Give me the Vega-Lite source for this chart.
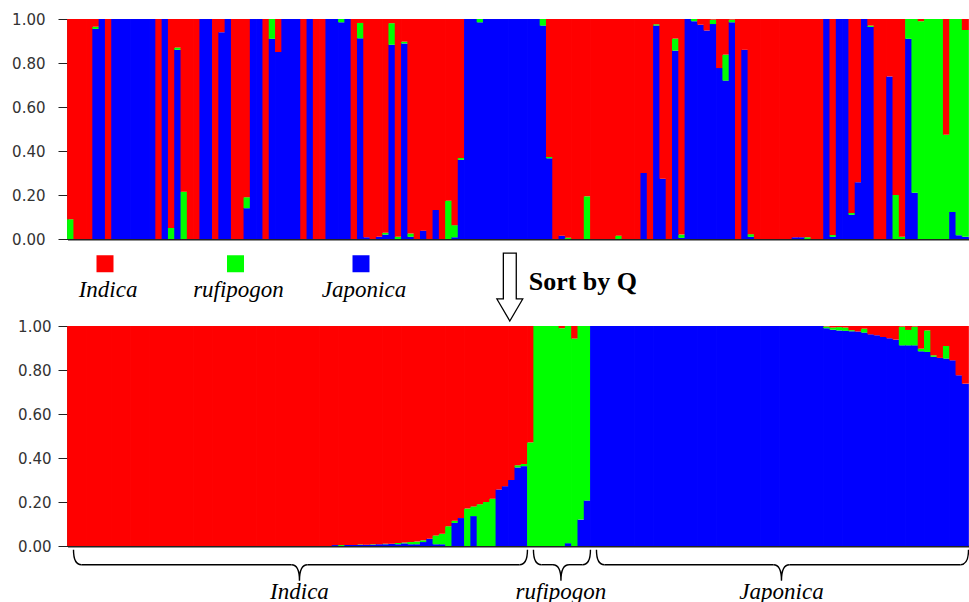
{
  "$schema": "https://vega.github.io/schema/vega-lite/v6.json",
  "background": "white",
  "padding": {"left": 11.5, "top": 12, "right": 0, "bottom": 0},
  "bounds": "flush",
  "spacing": 87,
  "config": {"view": {"stroke": null}, "font": "DejaVu Sans"},
  "resolve": {"scale": {"color": "independent"}, "legend": {"color": "independent"}},
  "datasets": {
    "pops": [{"pop": "Japonica", "rank": 1}, {"pop": "rufipogon", "rank": 2}, {"pop": "Indica", "rank": 3}],
    "groups": [{"group": "Indica", "start": 0, "end": 73}, {"group": "rufipogon", "start": 73, "end": 83}, {"group": "Japonica", "start": 83, "end": 143}],
    "original": [
      {"i":0,"Indica":0.91,"rufipogon":0.09,"Japonica":0},
      {"i":1,"Indica":1,"rufipogon":0,"Japonica":0},
      {"i":2,"Indica":1,"rufipogon":0,"Japonica":0},
      {"i":3,"Indica":1,"rufipogon":0,"Japonica":0},
      {"i":4,"Indica":0.035,"rufipogon":0.01,"Japonica":0.955},
      {"i":5,"Indica":0,"rufipogon":0,"Japonica":1},
      {"i":6,"Indica":1,"rufipogon":0,"Japonica":0},
      {"i":7,"Indica":0,"rufipogon":0,"Japonica":1},
      {"i":8,"Indica":0,"rufipogon":0,"Japonica":1},
      {"i":9,"Indica":0,"rufipogon":0,"Japonica":1},
      {"i":10,"Indica":0,"rufipogon":0,"Japonica":1},
      {"i":11,"Indica":0,"rufipogon":0,"Japonica":1},
      {"i":12,"Indica":0,"rufipogon":0,"Japonica":1},
      {"i":13,"Indica":0,"rufipogon":0,"Japonica":1},
      {"i":14,"Indica":1,"rufipogon":0,"Japonica":0},
      {"i":15,"Indica":0,"rufipogon":0,"Japonica":1},
      {"i":16,"Indica":0.95,"rufipogon":0.05,"Japonica":0},
      {"i":17,"Indica":0.13,"rufipogon":0.01,"Japonica":0.86},
      {"i":18,"Indica":0.785,"rufipogon":0.215,"Japonica":0},
      {"i":19,"Indica":1,"rufipogon":0,"Japonica":0},
      {"i":20,"Indica":1,"rufipogon":0,"Japonica":0},
      {"i":21,"Indica":0,"rufipogon":0,"Japonica":1},
      {"i":22,"Indica":0,"rufipogon":0,"Japonica":1},
      {"i":23,"Indica":1,"rufipogon":0,"Japonica":0},
      {"i":24,"Indica":0.06,"rufipogon":0,"Japonica":0.94},
      {"i":25,"Indica":0,"rufipogon":0,"Japonica":1},
      {"i":26,"Indica":1,"rufipogon":0,"Japonica":0},
      {"i":27,"Indica":1,"rufipogon":0,"Japonica":0},
      {"i":28,"Indica":0.81,"rufipogon":0.05,"Japonica":0.14},
      {"i":29,"Indica":0,"rufipogon":0,"Japonica":1},
      {"i":30,"Indica":0,"rufipogon":0,"Japonica":1},
      {"i":31,"Indica":1,"rufipogon":0,"Japonica":0},
      {"i":32,"Indica":0,"rufipogon":0.09,"Japonica":0.91},
      {"i":33,"Indica":0.15,"rufipogon":0,"Japonica":0.85},
      {"i":34,"Indica":0,"rufipogon":0,"Japonica":1},
      {"i":35,"Indica":0,"rufipogon":0,"Japonica":1},
      {"i":36,"Indica":0,"rufipogon":0,"Japonica":1},
      {"i":37,"Indica":1,"rufipogon":0,"Japonica":0},
      {"i":38,"Indica":0,"rufipogon":0,"Japonica":1},
      {"i":39,"Indica":1,"rufipogon":0,"Japonica":0},
      {"i":40,"Indica":1,"rufipogon":0,"Japonica":0},
      {"i":41,"Indica":0,"rufipogon":0,"Japonica":1},
      {"i":42,"Indica":0,"rufipogon":0,"Japonica":1},
      {"i":43,"Indica":0,"rufipogon":0.015,"Japonica":0.985},
      {"i":44,"Indica":0,"rufipogon":0,"Japonica":1},
      {"i":45,"Indica":1,"rufipogon":0,"Japonica":0},
      {"i":46,"Indica":0.018,"rufipogon":0.07,"Japonica":0.912},
      {"i":47,"Indica":0.992,"rufipogon":0,"Japonica":0.008},
      {"i":48,"Indica":1,"rufipogon":0,"Japonica":0},
      {"i":49,"Indica":0.99,"rufipogon":0,"Japonica":0.01},
      {"i":50,"Indica":0.972,"rufipogon":0.008,"Japonica":0.02},
      {"i":51,"Indica":0.019,"rufipogon":0.098,"Japonica":0.883},
      {"i":52,"Indica":0.99,"rufipogon":0.01,"Japonica":0},
      {"i":53,"Indica":0.103,"rufipogon":0.008,"Japonica":0.889},
      {"i":54,"Indica":0.975,"rufipogon":0.015,"Japonica":0.01},
      {"i":55,"Indica":1,"rufipogon":0,"Japonica":0},
      {"i":56,"Indica":0.962,"rufipogon":0,"Japonica":0.038},
      {"i":57,"Indica":1,"rufipogon":0,"Japonica":0},
      {"i":58,"Indica":0.868,"rufipogon":0,"Japonica":0.132},
      {"i":59,"Indica":1,"rufipogon":0,"Japonica":0},
      {"i":60,"Indica":0.826,"rufipogon":0.174,"Japonica":0},
      {"i":61,"Indica":0.937,"rufipogon":0.055,"Japonica":0.008},
      {"i":62,"Indica":0.632,"rufipogon":0.008,"Japonica":0.36},
      {"i":63,"Indica":0,"rufipogon":0,"Japonica":1},
      {"i":64,"Indica":0,"rufipogon":0,"Japonica":1},
      {"i":65,"Indica":0,"rufipogon":0.015,"Japonica":0.985},
      {"i":66,"Indica":0,"rufipogon":0,"Japonica":1},
      {"i":67,"Indica":0,"rufipogon":0,"Japonica":1},
      {"i":68,"Indica":0,"rufipogon":0,"Japonica":1},
      {"i":69,"Indica":0,"rufipogon":0,"Japonica":1},
      {"i":70,"Indica":0,"rufipogon":0,"Japonica":1},
      {"i":71,"Indica":0,"rufipogon":0,"Japonica":1},
      {"i":72,"Indica":0,"rufipogon":0,"Japonica":1},
      {"i":73,"Indica":0,"rufipogon":0,"Japonica":1},
      {"i":74,"Indica":0,"rufipogon":0,"Japonica":1},
      {"i":75,"Indica":0,"rufipogon":0.03,"Japonica":0.97},
      {"i":76,"Indica":0.627,"rufipogon":0.006,"Japonica":0.367},
      {"i":77,"Indica":1,"rufipogon":0,"Japonica":0},
      {"i":78,"Indica":0.985,"rufipogon":0,"Japonica":0.015},
      {"i":79,"Indica":0.994,"rufipogon":0.006,"Japonica":0},
      {"i":80,"Indica":1,"rufipogon":0,"Japonica":0},
      {"i":81,"Indica":1,"rufipogon":0,"Japonica":0},
      {"i":82,"Indica":0.806,"rufipogon":0.194,"Japonica":0},
      {"i":83,"Indica":1,"rufipogon":0,"Japonica":0},
      {"i":84,"Indica":1,"rufipogon":0,"Japonica":0},
      {"i":85,"Indica":1,"rufipogon":0,"Japonica":0},
      {"i":86,"Indica":1,"rufipogon":0,"Japonica":0},
      {"i":87,"Indica":0.985,"rufipogon":0.015,"Japonica":0},
      {"i":88,"Indica":1,"rufipogon":0,"Japonica":0},
      {"i":89,"Indica":1,"rufipogon":0,"Japonica":0},
      {"i":90,"Indica":1,"rufipogon":0,"Japonica":0},
      {"i":91,"Indica":0.7,"rufipogon":0,"Japonica":0.3},
      {"i":92,"Indica":1,"rufipogon":0,"Japonica":0},
      {"i":93,"Indica":0.024,"rufipogon":0.006,"Japonica":0.97},
      {"i":94,"Indica":0.726,"rufipogon":0,"Japonica":0.274},
      {"i":95,"Indica":1,"rufipogon":0,"Japonica":0},
      {"i":96,"Indica":0.089,"rufipogon":0.055,"Japonica":0.856},
      {"i":97,"Indica":0.98,"rufipogon":0.015,"Japonica":0.005},
      {"i":98,"Indica":0,"rufipogon":0,"Japonica":1},
      {"i":99,"Indica":0,"rufipogon":0.01,"Japonica":0.99},
      {"i":100,"Indica":0.026,"rufipogon":0,"Japonica":0.974},
      {"i":101,"Indica":0.052,"rufipogon":0,"Japonica":0.948},
      {"i":102,"Indica":0.003,"rufipogon":0.02,"Japonica":0.977},
      {"i":103,"Indica":0.223,"rufipogon":0,"Japonica":0.777},
      {"i":104,"Indica":0.162,"rufipogon":0.118,"Japonica":0.72},
      {"i":105,"Indica":0.003,"rufipogon":0.012,"Japonica":0.985},
      {"i":106,"Indica":1,"rufipogon":0,"Japonica":0},
      {"i":107,"Indica":0.14,"rufipogon":0,"Japonica":0.86},
      {"i":108,"Indica":0.978,"rufipogon":0.012,"Japonica":0.01},
      {"i":109,"Indica":1,"rufipogon":0,"Japonica":0},
      {"i":110,"Indica":1,"rufipogon":0,"Japonica":0},
      {"i":111,"Indica":1,"rufipogon":0,"Japonica":0},
      {"i":112,"Indica":1,"rufipogon":0,"Japonica":0},
      {"i":113,"Indica":1,"rufipogon":0,"Japonica":0},
      {"i":114,"Indica":1,"rufipogon":0,"Japonica":0},
      {"i":115,"Indica":0.992,"rufipogon":0,"Japonica":0.008},
      {"i":116,"Indica":0.992,"rufipogon":0,"Japonica":0.008},
      {"i":117,"Indica":0.992,"rufipogon":0.008,"Japonica":0},
      {"i":118,"Indica":1,"rufipogon":0,"Japonica":0},
      {"i":119,"Indica":1,"rufipogon":0,"Japonica":0},
      {"i":120,"Indica":0,"rufipogon":0,"Japonica":1},
      {"i":121,"Indica":0.982,"rufipogon":0.008,"Japonica":0.01},
      {"i":122,"Indica":0,"rufipogon":0,"Japonica":1},
      {"i":123,"Indica":0,"rufipogon":0,"Japonica":1},
      {"i":124,"Indica":0.882,"rufipogon":0.008,"Japonica":0.11},
      {"i":125,"Indica":0.742,"rufipogon":0,"Japonica":0.258},
      {"i":126,"Indica":0,"rufipogon":0,"Japonica":1},
      {"i":127,"Indica":0.03,"rufipogon":0.006,"Japonica":0.964},
      {"i":128,"Indica":1,"rufipogon":0,"Japonica":0},
      {"i":129,"Indica":1,"rufipogon":0,"Japonica":0},
      {"i":130,"Indica":0.261,"rufipogon":0,"Japonica":0.739},
      {"i":131,"Indica":0.8,"rufipogon":0.2,"Japonica":0},
      {"i":132,"Indica":0.99,"rufipogon":0.01,"Japonica":0},
      {"i":133,"Indica":0,"rufipogon":0.09,"Japonica":0.91},
      {"i":134,"Indica":0,"rufipogon":0.79,"Japonica":0.21},
      {"i":135,"Indica":0.01,"rufipogon":0.99,"Japonica":0},
      {"i":136,"Indica":0,"rufipogon":1,"Japonica":0},
      {"i":137,"Indica":0,"rufipogon":1,"Japonica":0},
      {"i":138,"Indica":0,"rufipogon":1,"Japonica":0},
      {"i":139,"Indica":0.526,"rufipogon":0.474,"Japonica":0},
      {"i":140,"Indica":0,"rufipogon":0.877,"Japonica":0.123},
      {"i":141,"Indica":0,"rufipogon":0.983,"Japonica":0.017},
      {"i":142,"Indica":0.05,"rufipogon":0.94,"Japonica":0.01}
    ],
    "sorted": [
      {"i":0,"Indica":1,"rufipogon":0,"Japonica":0},
      {"i":1,"Indica":1,"rufipogon":0,"Japonica":0},
      {"i":2,"Indica":1,"rufipogon":0,"Japonica":0},
      {"i":3,"Indica":1,"rufipogon":0,"Japonica":0},
      {"i":4,"Indica":1,"rufipogon":0,"Japonica":0},
      {"i":5,"Indica":1,"rufipogon":0,"Japonica":0},
      {"i":6,"Indica":1,"rufipogon":0,"Japonica":0},
      {"i":7,"Indica":1,"rufipogon":0,"Japonica":0},
      {"i":8,"Indica":1,"rufipogon":0,"Japonica":0},
      {"i":9,"Indica":1,"rufipogon":0,"Japonica":0},
      {"i":10,"Indica":1,"rufipogon":0,"Japonica":0},
      {"i":11,"Indica":1,"rufipogon":0,"Japonica":0},
      {"i":12,"Indica":1,"rufipogon":0,"Japonica":0},
      {"i":13,"Indica":1,"rufipogon":0,"Japonica":0},
      {"i":14,"Indica":1,"rufipogon":0,"Japonica":0},
      {"i":15,"Indica":1,"rufipogon":0,"Japonica":0},
      {"i":16,"Indica":1,"rufipogon":0,"Japonica":0},
      {"i":17,"Indica":1,"rufipogon":0,"Japonica":0},
      {"i":18,"Indica":1,"rufipogon":0,"Japonica":0},
      {"i":19,"Indica":1,"rufipogon":0,"Japonica":0},
      {"i":20,"Indica":1,"rufipogon":0,"Japonica":0},
      {"i":21,"Indica":1,"rufipogon":0,"Japonica":0},
      {"i":22,"Indica":1,"rufipogon":0,"Japonica":0},
      {"i":23,"Indica":1,"rufipogon":0,"Japonica":0},
      {"i":24,"Indica":1,"rufipogon":0,"Japonica":0},
      {"i":25,"Indica":1,"rufipogon":0,"Japonica":0},
      {"i":26,"Indica":1,"rufipogon":0,"Japonica":0},
      {"i":27,"Indica":1,"rufipogon":0,"Japonica":0},
      {"i":28,"Indica":1,"rufipogon":0,"Japonica":0},
      {"i":29,"Indica":1,"rufipogon":0,"Japonica":0},
      {"i":30,"Indica":1,"rufipogon":0,"Japonica":0},
      {"i":31,"Indica":1,"rufipogon":0,"Japonica":0},
      {"i":32,"Indica":1,"rufipogon":0,"Japonica":0},
      {"i":33,"Indica":1,"rufipogon":0,"Japonica":0},
      {"i":34,"Indica":1,"rufipogon":0,"Japonica":0},
      {"i":35,"Indica":1,"rufipogon":0,"Japonica":0},
      {"i":36,"Indica":1,"rufipogon":0,"Japonica":0},
      {"i":37,"Indica":1,"rufipogon":0,"Japonica":0},
      {"i":38,"Indica":1,"rufipogon":0,"Japonica":0},
      {"i":39,"Indica":1,"rufipogon":0,"Japonica":0},
      {"i":40,"Indica":1,"rufipogon":0,"Japonica":0},
      {"i":41,"Indica":1,"rufipogon":0,"Japonica":0},
      {"i":42,"Indica":0.996,"rufipogon":0,"Japonica":0.004},
      {"i":43,"Indica":0.996,"rufipogon":0.004,"Japonica":0},
      {"i":44,"Indica":0.995,"rufipogon":0,"Japonica":0.005},
      {"i":45,"Indica":0.995,"rufipogon":0,"Japonica":0.005},
      {"i":46,"Indica":0.993,"rufipogon":0.002,"Japonica":0.005},
      {"i":47,"Indica":0.994,"rufipogon":0,"Japonica":0.006},
      {"i":48,"Indica":0.992,"rufipogon":0.002,"Japonica":0.006},
      {"i":49,"Indica":0.992,"rufipogon":0,"Japonica":0.008},
      {"i":50,"Indica":0.99,"rufipogon":0.002,"Japonica":0.008},
      {"i":51,"Indica":0.99,"rufipogon":0,"Japonica":0.01},
      {"i":52,"Indica":0.986,"rufipogon":0.006,"Japonica":0.008},
      {"i":53,"Indica":0.984,"rufipogon":0.004,"Japonica":0.012},
      {"i":54,"Indica":0.982,"rufipogon":0.01,"Japonica":0.008},
      {"i":55,"Indica":0.98,"rufipogon":0.012,"Japonica":0.008},
      {"i":56,"Indica":0.974,"rufipogon":0.008,"Japonica":0.018},
      {"i":57,"Indica":0.967,"rufipogon":0,"Japonica":0.033},
      {"i":58,"Indica":0.952,"rufipogon":0.04,"Japonica":0.008},
      {"i":59,"Indica":0.944,"rufipogon":0.048,"Japonica":0.008},
      {"i":60,"Indica":0.91,"rufipogon":0.09,"Japonica":0},
      {"i":61,"Indica":0.885,"rufipogon":0.01,"Japonica":0.105},
      {"i":62,"Indica":0.873,"rufipogon":0,"Japonica":0.127},
      {"i":63,"Indica":0.83,"rufipogon":0.17,"Japonica":0},
      {"i":64,"Indica":0.82,"rufipogon":0.044,"Japonica":0.136},
      {"i":65,"Indica":0.81,"rufipogon":0.19,"Japonica":0},
      {"i":66,"Indica":0.8,"rufipogon":0.2,"Japonica":0},
      {"i":67,"Indica":0.785,"rufipogon":0.215,"Japonica":0},
      {"i":68,"Indica":0.743,"rufipogon":0,"Japonica":0.257},
      {"i":69,"Indica":0.728,"rufipogon":0,"Japonica":0.272},
      {"i":70,"Indica":0.7,"rufipogon":0,"Japonica":0.3},
      {"i":71,"Indica":0.633,"rufipogon":0.01,"Japonica":0.357},
      {"i":72,"Indica":0.627,"rufipogon":0.01,"Japonica":0.363},
      {"i":73,"Indica":0.529,"rufipogon":0.471,"Japonica":0},
      {"i":74,"Indica":0,"rufipogon":1,"Japonica":0},
      {"i":75,"Indica":0,"rufipogon":1,"Japonica":0},
      {"i":76,"Indica":0,"rufipogon":1,"Japonica":0},
      {"i":77,"Indica":0,"rufipogon":1,"Japonica":0},
      {"i":78,"Indica":0.01,"rufipogon":0.99,"Japonica":0},
      {"i":79,"Indica":0,"rufipogon":0.987,"Japonica":0.013},
      {"i":80,"Indica":0.057,"rufipogon":0.943,"Japonica":0},
      {"i":81,"Indica":0,"rufipogon":0.88,"Japonica":0.12},
      {"i":82,"Indica":0,"rufipogon":0.793,"Japonica":0.207},
      {"i":83,"Indica":0,"rufipogon":0,"Japonica":1},
      {"i":84,"Indica":0,"rufipogon":0,"Japonica":1},
      {"i":85,"Indica":0,"rufipogon":0,"Japonica":1},
      {"i":86,"Indica":0,"rufipogon":0,"Japonica":1},
      {"i":87,"Indica":0,"rufipogon":0,"Japonica":1},
      {"i":88,"Indica":0,"rufipogon":0,"Japonica":1},
      {"i":89,"Indica":0,"rufipogon":0,"Japonica":1},
      {"i":90,"Indica":0,"rufipogon":0,"Japonica":1},
      {"i":91,"Indica":0,"rufipogon":0,"Japonica":1},
      {"i":92,"Indica":0,"rufipogon":0,"Japonica":1},
      {"i":93,"Indica":0,"rufipogon":0,"Japonica":1},
      {"i":94,"Indica":0,"rufipogon":0,"Japonica":1},
      {"i":95,"Indica":0,"rufipogon":0,"Japonica":1},
      {"i":96,"Indica":0,"rufipogon":0,"Japonica":1},
      {"i":97,"Indica":0,"rufipogon":0,"Japonica":1},
      {"i":98,"Indica":0,"rufipogon":0,"Japonica":1},
      {"i":99,"Indica":0,"rufipogon":0,"Japonica":1},
      {"i":100,"Indica":0,"rufipogon":0,"Japonica":1},
      {"i":101,"Indica":0,"rufipogon":0,"Japonica":1},
      {"i":102,"Indica":0,"rufipogon":0,"Japonica":1},
      {"i":103,"Indica":0,"rufipogon":0,"Japonica":1},
      {"i":104,"Indica":0,"rufipogon":0,"Japonica":1},
      {"i":105,"Indica":0,"rufipogon":0,"Japonica":1},
      {"i":106,"Indica":0,"rufipogon":0,"Japonica":1},
      {"i":107,"Indica":0,"rufipogon":0,"Japonica":1},
      {"i":108,"Indica":0,"rufipogon":0,"Japonica":1},
      {"i":109,"Indica":0,"rufipogon":0,"Japonica":1},
      {"i":110,"Indica":0,"rufipogon":0,"Japonica":1},
      {"i":111,"Indica":0,"rufipogon":0,"Japonica":1},
      {"i":112,"Indica":0,"rufipogon":0,"Japonica":1},
      {"i":113,"Indica":0,"rufipogon":0,"Japonica":1},
      {"i":114,"Indica":0,"rufipogon":0,"Japonica":1},
      {"i":115,"Indica":0,"rufipogon":0,"Japonica":1},
      {"i":116,"Indica":0,"rufipogon":0,"Japonica":1},
      {"i":117,"Indica":0,"rufipogon":0,"Japonica":1},
      {"i":118,"Indica":0,"rufipogon":0,"Japonica":1},
      {"i":119,"Indica":0,"rufipogon":0,"Japonica":1},
      {"i":120,"Indica":0.002,"rufipogon":0.008,"Japonica":0.99},
      {"i":121,"Indica":0.007,"rufipogon":0.01,"Japonica":0.983},
      {"i":122,"Indica":0.005,"rufipogon":0.015,"Japonica":0.98},
      {"i":123,"Indica":0.007,"rufipogon":0.015,"Japonica":0.978},
      {"i":124,"Indica":0.019,"rufipogon":0.005,"Japonica":0.976},
      {"i":125,"Indica":0.025,"rufipogon":0,"Japonica":0.975},
      {"i":126,"Indica":0.012,"rufipogon":0.018,"Japonica":0.97},
      {"i":127,"Indica":0.038,"rufipogon":0,"Japonica":0.962},
      {"i":128,"Indica":0.042,"rufipogon":0,"Japonica":0.958},
      {"i":129,"Indica":0.05,"rufipogon":0,"Japonica":0.95},
      {"i":130,"Indica":0.056,"rufipogon":0,"Japonica":0.944},
      {"i":131,"Indica":0.062,"rufipogon":0,"Japonica":0.938},
      {"i":132,"Indica":0.003,"rufipogon":0.085,"Japonica":0.912},
      {"i":133,"Indica":0.018,"rufipogon":0.07,"Japonica":0.912},
      {"i":134,"Indica":0.003,"rufipogon":0.085,"Japonica":0.912},
      {"i":135,"Indica":0.103,"rufipogon":0.012,"Japonica":0.885},
      {"i":136,"Indica":0.02,"rufipogon":0.098,"Japonica":0.882},
      {"i":137,"Indica":0.133,"rufipogon":0.007,"Japonica":0.86},
      {"i":138,"Indica":0.145,"rufipogon":0,"Japonica":0.855},
      {"i":139,"Indica":0.091,"rufipogon":0.057,"Japonica":0.852},
      {"i":140,"Indica":0.156,"rufipogon":0,"Japonica":0.844},
      {"i":141,"Indica":0.224,"rufipogon":0,"Japonica":0.776},
      {"i":142,"Indica":0.262,"rufipogon":0,"Japonica":0.738}
    ]
  },
  "vconcat": [
    {
      "width": 901,
      "height": 220,
      "data": {"name": "original"},
      "transform": [
        {"fold": ["Japonica", "rufipogon", "Indica"], "as": ["pop", "q"]},
        {"lookup": "pop", "from": {"data": {"name": "pops"}, "key": "pop", "fields": ["rank"]}}
      ],
      "mark": {"type": "bar", "width": {"band": 1.12}},
      "encoding": {
        "x": {"field": "i", "type": "ordinal", "scale": {"paddingInner": 0, "paddingOuter": 0},
              "axis": {"labels": false, "ticks": false, "title": null, "domainColor": "#222", "domainWidth": 2}},
        "y": {"field": "q", "type": "quantitative", "stack": "zero", "scale": {"domain": [0, 1], "nice": false},
              "axis": {"values": [0, 0.2, 0.4, 0.6, 0.8, 1], "format": ".2f", "title": null, "grid": false,
                       "tickSize": 9.5, "tickColor": "#222", "labelPadding": 13, "labelFontSize": 15,
                       "labelFont": "DejaVu Sans", "labelColor": "#333", "domainColor": "#222", "domainWidth": 1.5}},
        "color": {"field": "pop", "type": "nominal",
                  "scale": {"domain": ["Indica", "rufipogon", "Japonica"], "range": ["#ff0000", "#00ff00", "#0000ff"]},
                  "legend": null},
        "order": {"field": "rank", "type": "quantitative", "sort": "ascending"}
      }
    },
    {
      "width": 901,
      "height": 220,
      "resolve": {"scale": {"x": "independent"}},
      "layer": [
        {
          "data": {"name": "sorted"},
          "transform": [
            {"fold": ["Japonica", "rufipogon", "Indica"], "as": ["pop", "q"]},
            {"lookup": "pop", "from": {"data": {"name": "pops"}, "key": "pop", "fields": ["rank"]}}
          ],
          "mark": {"type": "bar", "width": {"band": 1.12}},
          "encoding": {
            "x": {"field": "i", "type": "ordinal", "scale": {"paddingInner": 0, "paddingOuter": 0},
                  "axis": {"labels": false, "ticks": false, "title": null, "domainColor": "#222", "domainWidth": 2}},
            "y": {"field": "q", "type": "quantitative", "stack": "zero", "scale": {"domain": [0, 1], "nice": false},
                  "axis": {"values": [0, 0.2, 0.4, 0.6, 0.8, 1], "format": ".2f", "title": null, "grid": false,
                           "tickSize": 9.5, "tickColor": "#222", "labelPadding": 7, "labelFontSize": 15,
                           "labelFont": "DejaVu Sans", "labelColor": "#333", "domainColor": "#222", "domainWidth": 1.5}},
            "color": {"field": "pop", "type": "nominal",
                      "scale": {"domain": ["Indica", "rufipogon", "Japonica"], "range": ["#ff0000", "#00ff00", "#0000ff"]},
                      "legend": {"orient": "none", "legendX": 26, "legendY": -74, "direction": "horizontal",
                                 "title": null, "symbolType": "square", "symbolSize": 289, "symbolStrokeWidth": 0,
                                 "symbolOpacity": 1, "labelFont": "Liberation Serif", "labelFontStyle": "italic",
                                 "labelFontSize": 23, "labelColor": "#000", "labelAlign": "center", "labelOffset": -8.5,
                                 "labelBaseline": "top", "columnPadding": 37.5, "padding": 0,
                                 "encode": {
                                   "labels": {"update": {"dy": {"value": 15},
                                     "text": {"signal": "datum.value === 'Indica' ? '\u200b\u00a0\u00a0\u00a0Indica\u00a0\u00a0\u00a0\u200b' : datum.label"}}}
                                 }}},
            "order": {"field": "rank", "type": "quantitative", "sort": "ascending"}
          }
        },
        {
          "data": {"values": [{"label": "Sort by Q"}]},
          "layer": [
            {
              "mark": {"type": "point", "shape": "M-0.19,-1L0.19,-1L0.19,0.35L0.38,0.35L0,1L-0.38,0.35L-0.19,0.35Z",
                       "size": 4624, "filled": true, "fill": "#ffffff", "stroke": "#000000", "strokeWidth": 1.3, "opacity": 1},
              "encoding": {
                "x": {"datum": 70.2, "type": "quantitative", "scale": {"domain": [0, 143], "nice": false, "zero": false}, "axis": null},
                "y": {"datum": 1.177, "type": "quantitative", "scale": {"domain": [0, 1], "nice": false}}
              }
            },
            {
              "mark": {"type": "text", "align": "left", "baseline": "middle", "font": "Liberation Serif",
                       "fontWeight": "bold", "fontSize": 26, "color": "#000"},
              "encoding": {
                "text": {"field": "label"},
                "x": {"datum": 73.2, "type": "quantitative", "scale": {"domain": [0, 143], "nice": false, "zero": false}, "axis": null},
                "y": {"datum": 1.2, "type": "quantitative", "scale": {"domain": [0, 1], "nice": false}}
              }
            }
          ]
        },
        {
          "data": {"name": "groups"},
          "transform": [
            {"fold": ["start", "end"], "as": ["edge", "pos"]},
            {"joinaggregate": [{"op": "mean", "field": "pos", "as": "mid"}], "groupby": ["group"]}
          ],
          "layer": [
            {
              "transform": [{"filter": {"field": "edge", "equal": "start"}}],
              "mark": {"type": "rule", "xOffset": 14, "x2Offset": -6, "strokeWidth": 1.4, "color": "#000"},
              "encoding": {
                "x": {"field": "pos", "type": "quantitative", "scale": {"domain": [0, 143], "nice": false, "zero": false}, "axis": null},
                "x2": {"field": "mid"},
                "y": {"datum": -0.085, "type": "quantitative", "scale": {"domain": [0, 1], "nice": false}}
              }
            },
            {
              "transform": [{"filter": {"field": "edge", "equal": "end"}}],
              "mark": {"type": "rule", "xOffset": 10, "x2Offset": -8, "strokeWidth": 1.4, "color": "#000"},
              "encoding": {
                "x": {"field": "mid", "type": "quantitative", "scale": {"domain": [0, 143], "nice": false, "zero": false}, "axis": null},
                "x2": {"field": "pos"},
                "y": {"datum": -0.085, "type": "quantitative", "scale": {"domain": [0, 1], "nice": false}}
              }
            },
            {
              "transform": [{"filter": {"field": "edge", "equal": "start"}}],
              "mark": {"type": "point", "shape": "M0,-0.94Q0,0 0.5,0", "size": 1024, "filled": false,
                       "stroke": "#000", "strokeWidth": 1.4, "opacity": 1, "xOffset": 6},
              "encoding": {
                "x": {"field": "pos", "type": "quantitative", "scale": {"domain": [0, 143], "nice": false, "zero": false}, "axis": null},
                "y": {"datum": -0.085, "type": "quantitative", "scale": {"domain": [0, 1], "nice": false}}
              }
            },
            {
              "transform": [{"filter": {"field": "edge", "equal": "end"}}],
              "mark": {"type": "point", "shape": "M0,-0.94Q0,0 -0.5,0", "size": 1024, "filled": false,
                       "stroke": "#000", "strokeWidth": 1.4, "opacity": 1},
              "encoding": {
                "x": {"field": "pos", "type": "quantitative", "scale": {"domain": [0, 143], "nice": false, "zero": false}, "axis": null},
                "y": {"datum": -0.085, "type": "quantitative", "scale": {"domain": [0, 1], "nice": false}}
              }
            },
            {
              "transform": [{"filter": {"field": "edge", "equal": "start"}}],
              "mark": {"type": "point", "shape": "M-0.5,0Q0,0 0,1M0.5,0Q0,0 0,1", "size": 1024, "filled": false,
                       "stroke": "#000", "strokeWidth": 1.4, "opacity": 1, "xOffset": 2},
              "encoding": {
                "x": {"field": "mid", "type": "quantitative", "scale": {"domain": [0, 143], "nice": false, "zero": false}, "axis": null},
                "y": {"datum": -0.085, "type": "quantitative", "scale": {"domain": [0, 1], "nice": false}}
              }
            },
            {
              "transform": [{"filter": {"field": "edge", "equal": "start"}}],
              "mark": {"type": "text", "align": "center", "baseline": "alphabetic", "font": "Liberation Serif",
                       "fontStyle": "italic", "fontSize": 23, "color": "#000", "dx": 2},
              "encoding": {
                "text": {"field": "group"},
                "x": {"field": "mid", "type": "quantitative", "scale": {"domain": [0, 143], "nice": false, "zero": false}, "axis": null},
                "y": {"datum": -0.239, "type": "quantitative", "scale": {"domain": [0, 1], "nice": false}}
              }
            }
          ]
        }
      ]
    }
  ]
}
